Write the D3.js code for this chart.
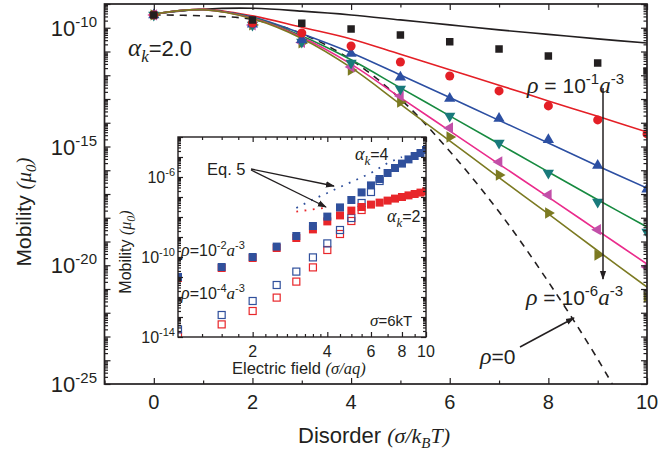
<!DOCTYPE html>
<html>
<head>
<meta charset="utf-8">
<script src="https://cdn.jsdelivr.net/npm/d3@7"></script>
<style>
body { margin: 0; background: #fff; }
svg { display: block; }
text { font-family: "Liberation Sans", Arial, sans-serif; fill: #231f20; }
.it { font-family: "Liberation Serif", "Times New Roman", serif; font-style: italic; }
.axis path, .axis line { stroke: #231f20; }
</style>
</head>
<body>
<svg id="chart" width="658" height="459"></svg>
<script>
// ---- main panel data: log10 of mobility (units of mu0) vs disorder sigma/kT ----
var sigmaMarks = [0, 2, 3, 4, 5, 6, 7, 8, 9, 10];
var sigmaLine = [0, 1, 2, 3, 4, 5, 6, 7, 8, 9, 10];

var rho1Marks = [-9.46, -9.67, -9.81, -10.05, -10.31, -10.59, -10.89, -11.19, -11.48, -11.82];
var rho2Marks = [-9.46, -9.8, -10.22, -10.77, -11.44, -12.03, -12.66, -13.29, -13.88, -14.47];
var rho3Marks = [-9.46, -9.85, -10.5, -11.08, -12.08, -12.98, -13.82, -14.72, -15.8, -16.8];
var rho4Marks = [-9.46, -9.88, -10.6, -11.48, -12.58, -13.72, -14.85, -16.12, -17.34, -18.6];
var rho5Marks = [-9.46, -9.88, -10.62, -11.65, -12.87, -14.22, -15.65, -17.04, -18.5, -20.07];
var rho6Marks = [-9.46, -9.88, -10.64, -11.78, -13.13, -14.6, -16.2, -17.8, -19.57, -21.34];

var rho1Line = [-9.42, -9.22, -9.18, -9.3, -9.46, -9.67, -9.88, -10.09, -10.28, -10.47, -10.64];
var rho2Line = [-9.42, -9.22, -9.5, -9.98, -10.47, -11.12, -11.77, -12.42, -13.08, -13.73, -14.39];
var rho3Line = [-9.42, -9.24, -9.55, -10.25, -11.05, -11.99, -12.94, -13.9, -14.85, -15.82, -16.75];
var rho4Line = [-9.42, -9.24, -9.58, -10.35, -11.35, -12.53, -13.71, -14.89, -16.07, -17.24, -18.39];
var rho5Line = [-9.42, -9.24, -9.6, -10.4, -11.53, -12.94, -14.34, -15.74, -17.13, -18.54, -19.95];
var rho6Line = [-9.42, -9.24, -9.62, -10.45, -11.68, -13.22, -14.76, -16.31, -17.84, -19.39, -20.92];
var rho0Line = [-9.46, -9.5, -9.65, -10.25, -11.35, -13.0, -15.2, -17.75, -20.7, -23.95, -27.6];

// ---- inset data: log10 mobility vs electric field (sigma/aq), sigma = 6kT ----
var field = [1, 1.5, 2, 2.5, 3, 3.5, 4, 4.5, 5, 5.5, 6, 6.5, 7, 7.5, 8, 8.5, 9, 9.5, 10];
var hiRhoAk4 = [-11.0, -10.5, -10.0, -9.48, -8.95, -8.45, -7.98, -7.52, -7.15, -6.77, -6.42, -6.1, -5.8, -5.55, -5.33, -5.12, -4.95, -4.8, -4.65];
var hiRhoAk2 = [-11.05, -10.55, -10.05, -9.55, -9.05, -8.62, -8.22, -7.92, -7.68, -7.5, -7.38, -7.28, -7.18, -7.08, -7.0, -6.92, -6.85, -6.78, -6.72];
var loRhoAk4 = [-13.62, -12.9, -12.2, -11.4, -10.73, -10.02, -9.32, -8.65, -8.05, -7.3, -6.75, -6.2];
var loRhoAk2 = [-13.95, -13.37, -12.7, -12.03, -11.23, -10.52, -9.65, -8.85, -8.2, -7.65];
var eq5FieldAk4 = [3, 3.5, 4, 4.5, 5, 6, 7, 8];
var eq5Ak4 = [-7.55, -7.12, -6.8, -6.5, -6.25, -5.8, -5.3, -5.0];
var eq5FieldAk2 = [3, 3.5, 4];
var eq5Ak2 = [-7.73, -7.62, -7.52];

var ink = "#231f20";
var svg = d3.select("#chart");

var defs = svg.append("defs");
defs.append("marker").attr("id", "head")
    .attr("viewBox", "0 0 10 10").attr("refX", 9).attr("refY", 5)
    .attr("markerWidth", 9).attr("markerHeight", 9).attr("orient", "auto")
    .attr("markerUnits", "userSpaceOnUse")
  .append("path").attr("d", "M0,1.5 L10,5 L0,8.5 Z").attr("fill", ink);

var x = d3.scaleLinear().domain([-1, 10]).range([104.5, 647]);
var y = d3.scaleLog().domain([1e-25, 1e-9]).range([384, 4]);

var main = svg.append("g");
main.append("clipPath").attr("id", "clipMain")
  .append("rect").attr("x", 104.5).attr("y", 4).attr("width", 542.5).attr("height", 380);

var series = [
  {line: rho1Line, marks: rho1Marks, lc: ink, mc: ink, sym: d3.symbolSquare, rot: 0, size: 56},
  {line: rho2Line, marks: rho2Marks, lc: "#e41f26", mc: "#e41f26", sym: d3.symbolCircle, rot: 0, size: 64},
  {line: rho3Line, marks: rho3Marks, lc: "#2c4fa2", mc: "#2c4fa2", sym: d3.symbolTriangle, rot: 0, size: 55},
  {line: rho4Line, marks: rho4Marks, lc: "#178a40", mc: "#197a7b", sym: d3.symbolTriangle, rot: 180, size: 55},
  {line: rho5Line, marks: rho5Marks, lc: "#ea2c8c", mc: "#c24fa8", sym: d3.symbolTriangle, rot: -90, size: 55},
  {line: rho6Line, marks: rho6Marks, lc: "#7c7a22", mc: "#7c7a22", sym: d3.symbolTriangle, rot: 90, size: 55}
];

var line = d3.line()
    .x(function(d) { return x(d[0]); })
    .y(function(d) { return y(Math.pow(10, d[1])); })
    .curve(d3.curveCatmullRom);

var plot = main.append("g").attr("clip-path", "url(#clipMain)");

plot.append("path")
    .datum(d3.zip(sigmaLine, rho0Line))
    .attr("d", line).attr("fill", "none")
    .attr("stroke", ink).attr("stroke-width", 1.6).attr("stroke-dasharray", "7,6");

series.forEach(function(s) {
  plot.append("path")
      .datum(d3.zip(sigmaLine, s.line))
      .attr("d", line).attr("fill", "none")
      .attr("stroke", s.lc).attr("stroke-width", 1.6);
});

series.slice().reverse().forEach(function(s) {
  plot.selectAll(null)
      .data(d3.zip(sigmaMarks, s.marks))
      .enter().append("path")
      .attr("d", d3.symbol().type(s.sym).size(s.size))
      .attr("transform", function(d) {
        return "translate(" + x(d[0]) + "," + y(Math.pow(10, d[1])) + ") rotate(" + s.rot + ")";
      })
      .attr("fill", s.mc);
});

// ---- main axes ----
var decades = d3.range(-25, -8).map(function(e) { return Math.pow(10, e); });
var minors = [];
d3.range(-25, -9).forEach(function(e) {
  for (var m = 2; m < 10; m++) minors.push(m * Math.pow(10, e));
});
var xMajor = [0, 2, 4, 6, 8, 10], xMinor = [-1, 1, 3, 5, 7, 9];

function frame(g, xs, ys, xMaj, xMin, yMaj, yMin, w, tMaj, tMin) {
  var x0 = xs.range()[0], x1 = xs.range()[1], y0 = ys.range()[0], y1 = ys.range()[1];
  g.append("g").attr("class", "axis").attr("transform", "translate(0," + y0 + ")")
      .call(d3.axisBottom(xs).tickValues(xMaj).tickSize(-tMaj).tickFormat(""));
  g.append("g").attr("class", "axis").attr("transform", "translate(0," + y0 + ")")
      .call(d3.axisBottom(xs).tickValues(xMin).tickSize(-tMin).tickFormat(""));
  g.append("g").attr("class", "axis").attr("transform", "translate(0," + y1 + ")")
      .call(d3.axisTop(xs).tickValues(xMaj).tickSize(-tMaj).tickFormat(""));
  g.append("g").attr("class", "axis").attr("transform", "translate(0," + y1 + ")")
      .call(d3.axisTop(xs).tickValues(xMin).tickSize(-tMin).tickFormat(""));
  g.append("g").attr("class", "axis").attr("transform", "translate(" + x0 + ",0)")
      .call(d3.axisLeft(ys).tickValues(yMaj).tickSize(-tMaj).tickFormat(""));
  g.append("g").attr("class", "axis").attr("transform", "translate(" + x0 + ",0)")
      .call(d3.axisLeft(ys).tickValues(yMin).tickSize(-tMin).tickFormat(""));
  g.append("g").attr("class", "axis").attr("transform", "translate(" + x1 + ",0)")
      .call(d3.axisRight(ys).tickValues(yMaj).tickSize(-tMaj).tickFormat(""));
  g.append("g").attr("class", "axis").attr("transform", "translate(" + x1 + ",0)")
      .call(d3.axisRight(ys).tickValues(yMin).tickSize(-tMin).tickFormat(""));
  g.selectAll(".axis path").remove();
  g.selectAll(".axis line").attr("stroke-width", 1.2);
  g.append("rect").attr("x", x0).attr("y", y1).attr("width", x1 - x0).attr("height", y0 - y1)
      .attr("fill", "none").attr("stroke", ink).attr("stroke-width", w);
}

frame(main, x, y, xMajor, xMinor, decades, minors, 1.7, 6, 3.5);

main.selectAll(".xlab").data(xMajor).enter().append("text")
    .attr("x", function(d) { return x(d); }).attr("y", 409)
    .attr("text-anchor", "middle").style("font-size", "20px")
    .text(function(d) { return d; });

function powerLabel(g, px, py, exp, big, small, rise) {
  var t = g.append("text").attr("x", px).attr("y", py)
      .attr("text-anchor", "end").style("font-size", big + "px");
  t.append("tspan").text("10");
  t.append("tspan").attr("dy", -rise).style("font-size", small + "px").text(exp);
  return t;
}
[-10, -15, -20, -25].forEach(function(e) {
  powerLabel(main, 97, y(Math.pow(10, e)) + 8, e, 22, 15, 9);
});

main.append("text").attr("x", 298).attr("y", 443).style("font-size", "22px")
    .call(function(t) {
      t.append("tspan").text("Disorder ");
      t.append("tspan").attr("class", "it").text("(\u03c3/k");
      t.append("tspan").attr("class", "it").attr("dy", 5).style("font-size", "15px").text("B");
      t.append("tspan").attr("class", "it").attr("dy", -5).text("T)");
    });

main.append("text").attr("transform", "translate(31,212) rotate(-90)")
    .attr("text-anchor", "middle").style("font-size", "21px")
    .call(function(t) {
      t.append("tspan").text("Mobility ");
      t.append("tspan").attr("class", "it").text("(\u03bc");
      t.append("tspan").attr("class", "it").attr("dy", 5).style("font-size", "15px").text("0");
      t.append("tspan").attr("class", "it").attr("dy", -5).text(")");
    });

// annotations in main panel
main.append("text").attr("x", 128).attr("y", 56).style("font-size", "22px")
    .call(function(t) {
      t.append("tspan").attr("class", "it").style("font-size", "25px").text("\u03b1");
      t.append("tspan").attr("class", "it").attr("dy", 6).style("font-size", "17px").text("k");
      t.append("tspan").attr("dy", -6).text("=2.0");
    });

function rhoLabel(g, px, py, exp, spaced) {
  var t = g.append("text").attr("x", px).attr("y", py).style("font-size", "21px");
  t.append("tspan").attr("class", "it").style("font-size", "24px").text("\u03c1");
  t.append("tspan").text(spaced ? " = 10" : "=10");
  t.append("tspan").attr("dy", -9).style("font-size", "15px").text(exp);
  t.append("tspan").attr("class", "it").attr("dy", 9).style("font-size", "23px").text("a");
  t.append("tspan").attr("dy", -9).style("font-size", "15px").text("-3");
  return t;
}
rhoLabel(main, 527, 93, "-1", true);
rhoLabel(main, 526, 305, "-6", true);

main.append("text").attr("x", 480).attr("y", 364).style("font-size", "21px")
    .call(function(t) {
      t.append("tspan").attr("class", "it").style("font-size", "24px").text("\u03c1");
      t.append("tspan").text("=0");
    });

main.append("line").attr("x1", 603).attr("y1", 88).attr("x2", 603).attr("y2", 279)
    .attr("stroke", ink).attr("stroke-width", 1.5).attr("marker-end", "url(#head)");
main.append("line").attr("x1", 520).attr("y1", 347).attr("x2", 574).attr("y2", 318)
    .attr("stroke", ink).attr("stroke-width", 1.5).attr("marker-end", "url(#head)");

// ---- inset ----
var ix = d3.scaleLog().domain([1, 10]).range([178, 426]);
var iy = d3.scaleLog().domain([1e-14, 1e-4]).range([337, 137]);
var inset = svg.append("g");
inset.append("rect").attr("x", 178).attr("y", 137).attr("width", 248).attr("height", 200).attr("fill", "#fff");
inset.append("clipPath").attr("id", "clipInset")
  .append("rect").attr("x", 178).attr("y", 137).attr("width", 248).attr("height", 200);

var iDec = d3.range(-14, -3).map(function(e) { return Math.pow(10, e); });
var iMin = [];
d3.range(-14, -4).forEach(function(e) {
  for (var m = 2; m < 10; m++) iMin.push(m * Math.pow(10, e));
});
var iXMaj = [2, 4, 6, 8, 10];
var iXMin = [1.25, 1.5, 1.75, 2.25, 2.5, 2.75, 3, 3.25, 3.5, 3.75, 4.5, 5, 5.5, 7, 9];

var ip = inset.append("g").attr("clip-path", "url(#clipInset)");
function pt(d) { return [ix(d[0]), iy(Math.pow(10, d[1]))]; }

var dotted = d3.line().x(function(d) { return pt(d)[0]; }).y(function(d) { return pt(d)[1]; });
ip.append("path").datum(d3.zip(eq5FieldAk4, eq5Ak4)).attr("d", dotted)
    .attr("fill", "none").attr("stroke", "#30509c").attr("stroke-width", 1.8).attr("stroke-dasharray", "1.8,6.5");
ip.append("path").datum(d3.zip(eq5FieldAk2, eq5Ak2)).attr("d", dotted)
    .attr("fill", "none").attr("stroke", "#e8262a").attr("stroke-width", 1.8).attr("stroke-dasharray", "1.8,6.5");

function squares(data, color, open) {
  ip.selectAll(null).data(data).enter().append("rect")
      .attr("x", function(d) { return pt(d)[0] - (open ? 3.5 : 4); })
      .attr("y", function(d) { return pt(d)[1] - (open ? 3.5 : 4); })
      .attr("width", open ? 7 : 8).attr("height", open ? 7 : 8)
      .attr("fill", open ? "none" : color)
      .attr("stroke", open ? color : "none").attr("stroke-width", 1.2);
}
squares(d3.zip(field, loRhoAk2), "#e8262a", true);
squares(d3.zip(field, loRhoAk4), "#30509c", true);
squares(d3.zip(field, hiRhoAk2), "#e8262a", false);
squares(d3.zip(field, hiRhoAk4), "#30509c", false);

frame(inset, ix, iy, iXMaj, iXMin, iDec, iMin, 1.4, 5, 3);

inset.selectAll(".ixlab").data(iXMaj).enter().append("text")
    .attr("x", function(d) { return ix(d); }).attr("y", 357)
    .attr("text-anchor", "middle").style("font-size", "16px")
    .text(function(d) { return d; });
[-6, -10, -14].forEach(function(e) {
  powerLabel(inset, 175, iy(Math.pow(10, e)) + 6, e, 16, 11, 7);
});

inset.append("text").attr("x", 232).attr("y", 374).style("font-size", "16.5px")
    .call(function(t) {
      t.append("tspan").text("Electric field ");
      t.append("tspan").attr("class", "it").text("(\u03c3/aq)");
    });
inset.append("text").attr("transform", "translate(131,252) rotate(-90)")
    .attr("text-anchor", "middle").style("font-size", "16px")
    .call(function(t) {
      t.append("tspan").text("Mobility ");
      t.append("tspan").attr("class", "it").text("(\u03bc");
      t.append("tspan").attr("class", "it").attr("dy", 4).style("font-size", "12px").text("0");
      t.append("tspan").attr("class", "it").attr("dy", -4).text(")");
    });

function smallRho(px, py, exp) {
  var t = inset.append("text").attr("x", px).attr("y", py).style("font-size", "16px");
  t.append("tspan").attr("class", "it").style("font-size", "18px").text("\u03c1");
  t.append("tspan").text("=10");
  t.append("tspan").attr("dy", -7).style("font-size", "11px").text(exp);
  t.append("tspan").attr("class", "it").attr("dy", 7).style("font-size", "17px").text("a");
  t.append("tspan").attr("dy", -7).style("font-size", "11px").text("-3");
}
smallRho(181, 256, "-2");
smallRho(181, 299, "-4");

function akLabel(px, py, val) {
  var t = inset.append("text").attr("x", px).attr("y", py).style("font-size", "16px");
  t.append("tspan").attr("class", "it").style("font-size", "18px").text("\u03b1");
  t.append("tspan").attr("class", "it").attr("dy", 5).style("font-size", "13px").text("k");
  t.append("tspan").attr("dy", -5).text("=" + val);
}
akLabel(355, 160, "4");
akLabel(387, 222, "2");

inset.append("text").attr("x", 370).attr("y", 326).style("font-size", "15px")
    .call(function(t) {
      t.append("tspan").attr("class", "it").style("font-size", "17px").text("\u03c3");
      t.append("tspan").text("=6kT");
    });

inset.append("text").attr("x", 207).attr("y", 175).style("font-size", "16.5px").text("Eq. 5");
inset.append("line").attr("x1", 251).attr("y1", 169).attr("x2", 334).attr("y2", 186)
    .attr("stroke", ink).attr("stroke-width", 1.3).attr("marker-end", "url(#head)");
inset.append("line").attr("x1", 251).attr("y1", 170).attr("x2", 326).attr("y2", 207)
    .attr("stroke", ink).attr("stroke-width", 1.3).attr("marker-end", "url(#head)");
</script>
</body>
</html>
